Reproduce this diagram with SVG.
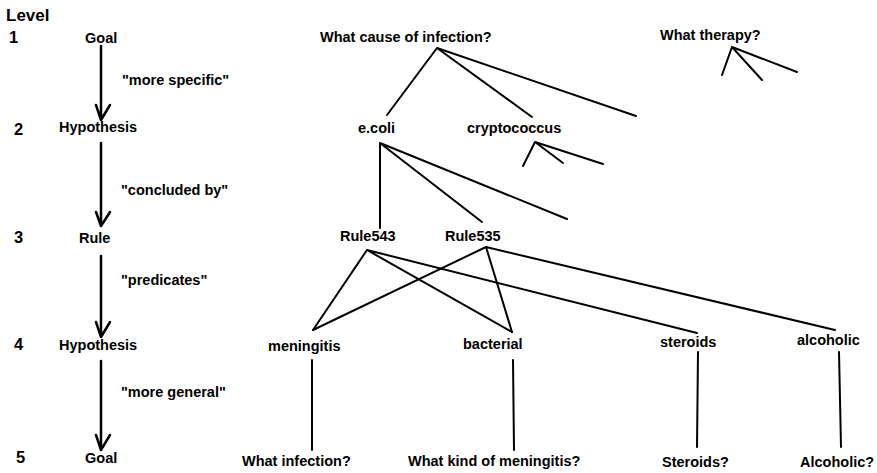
<svg xmlns="http://www.w3.org/2000/svg" width="877" height="473" viewBox="0 0 877 473">
<style>
text{font-family:"Liberation Sans",Arial,sans-serif;font-weight:bold;font-size:14.5px;fill:#000}
.lvl{font-size:16.5px}
.title{font-size:17px}
.ln{stroke:#000;stroke-width:2;fill:none;stroke-linecap:round}
.ar{stroke:#000;stroke-width:2.5;fill:none;stroke-linecap:round;stroke-linejoin:round}
</style>
<rect width="877" height="473" fill="#fff"/>
<g id="legend">
<text class="title" x="6" y="21">Level</text>
<text class="lvl" x="9" y="43">1</text>
<text class="lvl" x="14" y="135">2</text>
<text class="lvl" x="14" y="243">3</text>
<text class="lvl" x="14" y="350">4</text>
<text class="lvl" x="16" y="463">5</text>
</g>
<g id="l-goal1"><text x="85" y="43">Goal</text></g>
<g id="l-hyp2"><text x="59" y="132">Hypothesis</text></g>
<g id="l-rule3"><text x="79" y="243">Rule</text></g>
<g id="l-hyp4"><text x="59" y="350">Hypothesis</text></g>
<g id="l-goal5"><text x="85" y="463">Goal</text></g>
<g id="legend-labels">
<text x="122" y="85">"more specific"</text>
<text x="121" y="195">"concluded by"</text>
<text x="121" y="285">"predicates"</text>
<text x="121" y="397">"more general"</text>
</g>
<g id="cause"><text x="320" y="42">What cause of infection?</text></g>
<g id="therapy"><text x="660" y="40">What therapy?</text></g>
<g id="ecoli"><text x="358" y="133">e.coli</text></g>
<g id="crypto"><text x="467" y="133">cryptococcus</text></g>
<g id="rule543"><text x="340" y="241">Rule543</text></g>
<g id="rule535"><text x="445" y="241">Rule535</text></g>
<g id="meningitis"><text x="268" y="351">meningitis</text></g>
<g id="bacterial"><text x="463" y="349">bacterial</text></g>
<g id="steroids"><text x="660" y="347">steroids</text></g>
<g id="alcoholic"><text x="797" y="345">alcoholic</text></g>
<g id="q-infection"><text x="242" y="466">What infection?</text></g>
<g id="q-kind"><text x="408" y="466">What kind of meningitis?</text></g>
<g id="q-steroids"><text x="662" y="467">Steroids?</text></g>
<g id="q-alcoholic"><text x="800" y="467">Alcoholic?</text></g>
<g id="connectors">
<g class="ar">
<path d="M101 46V120M96 105L101 120L110 105"/>
<path d="M101 143V226M96 212L101 226L110 212"/>
<path d="M101 256V337M96 322L101 337L110 322"/>
<path d="M101 361V450M96 435L101 450L110 435"/>
</g>
<g class="ln">
<path d="M437 48L387 115M437 48L532 117M437 48L636 116"/>
<path d="M732 47L722 75M732 47L762 80M732 47L797 72"/>
<path d="M535 142L523 166M535 142L563 163M535 142L603 164"/>
<path d="M380 143L380 228M380 143L482 222M380 143L567 219"/>
<path d="M367 250L313 330M367 250L512 332M367 250L697 333"/>
<path d="M486 247L313 330M486 247L512 332M486 247L835 330"/>
<path d="M312 360V450M513 360L514 450M698 352L697 447M839 352L841 447"/>
</g>
</g>
</svg>
